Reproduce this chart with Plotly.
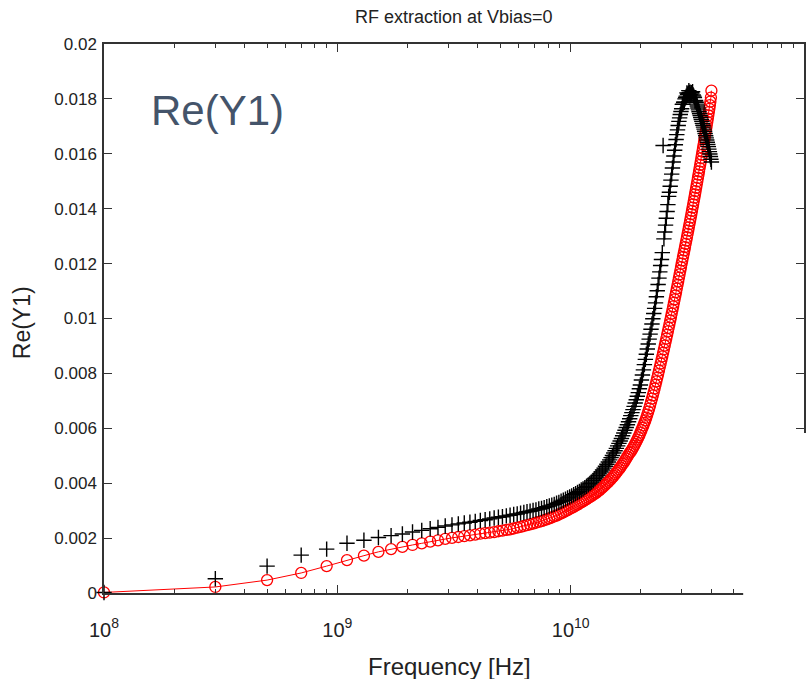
import plotly.graph_objects as go

# Frequency sweep (GHz)
freq_ghz = [
    0.1, 0.3, 0.5, 0.7, 0.9, 1.1, 1.3, 1.5, 1.7, 1.9,
    2.1, 2.3, 2.5, 2.7, 2.9, 3.1, 3.3, 3.5, 3.7, 3.9,
    4.1, 4.3, 4.5, 4.7, 4.9, 5.1, 5.3, 5.5, 5.7, 5.9,
    6.1, 6.3, 6.5, 6.7, 6.9, 7.1, 7.3, 7.5, 7.7, 7.9,
    8.1, 8.3, 8.5, 8.7, 8.9, 9.1, 9.3, 9.5, 9.7, 9.9,
    10.1, 10.3, 10.5, 10.7, 10.9, 11.1, 11.3, 11.5, 11.7, 11.9,
    12.1, 12.3, 12.5, 12.7, 12.9, 13.1, 13.3, 13.5, 13.7, 13.9,
    14.1, 14.3, 14.5, 14.7, 14.9, 15.1, 15.3, 15.5, 15.7, 15.9,
    16.1, 16.3, 16.5, 16.7, 16.9, 17.1, 17.3, 17.5, 17.7, 17.9,
    18.1, 18.3, 18.5, 18.7, 18.9, 19.1, 19.3, 19.5, 19.7, 19.9,
    20.1, 20.3, 20.5, 20.7, 20.9, 21.1, 21.3, 21.5, 21.7, 21.9,
    22.1, 22.3, 22.5, 22.7, 22.9, 23.1, 23.3, 23.5, 23.7, 23.9,
    24.1, 24.3, 24.5, 24.7, 24.9, 25.1, 25.3, 25.5, 25.7, 25.9,
    26.1, 26.3, 26.5, 26.7, 26.9, 27.1, 27.3, 27.5, 27.7, 27.9,
    28.1, 28.3, 28.5, 28.7, 28.9, 29.1, 29.3, 29.5, 29.7, 29.9,
    30.1, 30.3, 30.5, 30.7, 30.9, 31.1, 31.3, 31.5, 31.7, 31.9,
    32.1, 32.3, 32.5, 32.7, 32.9, 33.1, 33.3, 33.5, 33.7, 33.9,
    34.1, 34.3, 34.5, 34.7, 34.9, 35.1, 35.3, 35.5, 35.7, 35.9,
    36.1, 36.3, 36.5, 36.7, 36.9, 37.1, 37.3, 37.5, 37.7, 37.9,
    38.1, 38.3, 38.5, 38.7, 38.9, 39.1, 39.3, 39.5, 39.7, 39.9,
    40.1,
]

# Re(Y1), model (red circles with line)
re_y1_model = [
    0.00002, 0.00022, 0.00047, 0.00073, 0.00098, 0.00120, 0.00136, 0.00150, 0.00160, 0.00168,
    0.00175, 0.00181, 0.00187, 0.00192, 0.00197, 0.00201, 0.00204, 0.00207, 0.00210, 0.00213,
    0.00216, 0.00218, 0.00220, 0.00222, 0.00225, 0.00227, 0.00230, 0.00232, 0.00235, 0.00238,
    0.00241, 0.00244, 0.00247, 0.00250, 0.00253, 0.00256, 0.00259, 0.00262, 0.00265, 0.00268,
    0.00272, 0.00275, 0.00279, 0.00282, 0.00286, 0.00290, 0.00294, 0.00298, 0.00302, 0.00306,
    0.00310, 0.00314, 0.00318, 0.00322, 0.00326, 0.00330, 0.00334, 0.00338, 0.00342, 0.00346,
    0.00350, 0.00354, 0.00358, 0.00362, 0.00366, 0.00371, 0.00375, 0.00380, 0.00385, 0.00390,
    0.00395, 0.00400, 0.00405, 0.00410, 0.00416, 0.00421, 0.00427, 0.00433, 0.00439, 0.00445,
    0.00451, 0.00457, 0.00463, 0.00470, 0.00476, 0.00483, 0.00490, 0.00497, 0.00504, 0.00511,
    0.00515, 0.00522, 0.00529, 0.00536, 0.00543, 0.00551, 0.00559, 0.00567, 0.00575, 0.00584,
    0.00593, 0.00602, 0.00611, 0.00620, 0.00629, 0.00639, 0.00650, 0.00661, 0.00672, 0.00684,
    0.00696, 0.00708, 0.00720, 0.00732, 0.00745, 0.00758, 0.00771, 0.00784, 0.00797, 0.00810,
    0.00823, 0.00836, 0.00849, 0.00862, 0.00875, 0.00888, 0.00901, 0.00914, 0.00927, 0.00940,
    0.00953, 0.00966, 0.00979, 0.00992, 0.01005, 0.01018, 0.01031, 0.01044, 0.01057, 0.01070,
    0.01083, 0.01096, 0.01109, 0.01122, 0.01135, 0.01148, 0.01161, 0.01174, 0.01187, 0.01200,
    0.01212, 0.01224, 0.01236, 0.01248, 0.01260, 0.01272, 0.01284, 0.01296, 0.01308, 0.01320,
    0.01332, 0.01344, 0.01356, 0.01368, 0.01380, 0.01392, 0.01404, 0.01416, 0.01428, 0.01440,
    0.01452, 0.01464, 0.01476, 0.01488, 0.01500, 0.01512, 0.01524, 0.01536, 0.01548, 0.01560,
    0.01572, 0.01584, 0.01596, 0.01608, 0.01620, 0.01632, 0.01644, 0.01656, 0.01668, 0.01680,
    0.01692, 0.01704, 0.01716, 0.01728, 0.01740, 0.01752, 0.01764, 0.01777, 0.01790, 0.01805,
    0.01830,
]

# Re(Y1), measured (black plus markers)
re_y1_meas = [
    0.00002, 0.00052, 0.00098, 0.00138, 0.00160, 0.00181, 0.00192, 0.00202, 0.00209, 0.00215,
    0.00222, 0.00228, 0.00234, 0.00239, 0.00244, 0.00248, 0.00252, 0.00255, 0.00258, 0.00261,
    0.00264, 0.00267, 0.00270, 0.00273, 0.00276, 0.00278, 0.00281, 0.00283, 0.00286, 0.00288,
    0.00291, 0.00293, 0.00296, 0.00298, 0.00301, 0.00303, 0.00306, 0.00308, 0.00311, 0.00314,
    0.00317, 0.00320, 0.00323, 0.00327, 0.00330, 0.00334, 0.00338, 0.00342, 0.00346, 0.00350,
    0.00354, 0.00358, 0.00362, 0.00366, 0.00370, 0.00375, 0.00379, 0.00384, 0.00389, 0.00394,
    0.00399, 0.00404, 0.00410, 0.00416, 0.00422, 0.00428, 0.00434, 0.00441, 0.00448, 0.00455,
    0.00462, 0.00469, 0.00477, 0.00485, 0.00493, 0.00501, 0.00510, 0.00518, 0.00527, 0.00536,
    0.00545, 0.00554, 0.00563, 0.00573, 0.00583, 0.00593, 0.00603, 0.00613, 0.00624, 0.00635,
    0.00646, 0.00657, 0.00668, 0.00680, 0.00692, 0.00704, 0.00717, 0.00730, 0.00744, 0.00758,
    0.00776, 0.00794, 0.00813, 0.00832, 0.00851, 0.00870, 0.00889, 0.00907, 0.00925, 0.00943,
    0.00961, 0.00980, 0.00999, 0.01018, 0.01037, 0.01057, 0.01079, 0.01101, 0.01124, 0.01147,
    0.01170, 0.01193, 0.01215, 0.01240, 0.01630, 0.01290, 0.01315, 0.01340, 0.01365, 0.01390,
    0.01415, 0.01445, 0.01460, 0.01482, 0.01504, 0.01526, 0.01548, 0.01570, 0.01592, 0.01613,
    0.01633, 0.01652, 0.01670, 0.01687, 0.01703, 0.01718, 0.01731, 0.01743, 0.01754, 0.01764,
    0.01780, 0.01781, 0.01788, 0.01788, 0.01800, 0.01805, 0.01810, 0.01822, 0.01817, 0.01820,
    0.01830, 0.01823, 0.01824, 0.01815, 0.01823, 0.01821, 0.01826, 0.01814, 0.01810, 0.01805,
    0.01792, 0.01794, 0.01788, 0.01781, 0.01774, 0.01767, 0.01760, 0.01753, 0.01746, 0.01739,
    0.01732, 0.01725, 0.01718, 0.01711, 0.01704, 0.01697, 0.01690, 0.01682, 0.01674, 0.01666,
    0.01658, 0.01650, 0.01642, 0.01634, 0.01626, 0.01617, 0.01608, 0.01599, 0.01590, 0.01580,
    0.01570,
]

x_tick_vals = [1e8, 1e9, 1e10]
x_tick_text = ["10<sup>8</sup>", "10<sup>9</sup>", "10<sup>10</sup>"]
x_minor_vals = [m * d for d in (1e8, 1e9, 1e10) for m in range(2, 10)]
y_tick_vals = [0, 0.002, 0.004, 0.006, 0.008, 0.01, 0.012, 0.014, 0.016, 0.018, 0.02]
y_tick_text = ["0", "0.002", "0.004", "0.006", "0.008", "0.01", "0.012",
               "0.014", "0.016", "0.018", "0.02"]

title_text = "RF extraction at Vbias=0"
x_label = "Frequency [Hz]"
y_label = "Re(Y1)"
panel_label = "Re(Y1)"

freq_hz = [f * 1e9 for f in freq_ghz]

FONT = "Liberation Sans, Arial, Helvetica, sans-serif"
AX = "#333333"

fig = go.Figure()
fig.add_trace(go.Scatter(
    x=freq_hz, y=re_y1_model, mode="lines+markers",
    line=dict(color="#ff0000", width=1),
    marker=dict(symbol="circle-open", size=11, color="#ff0000",
                line=dict(width=1.3, color="#ff0000")),
    showlegend=False, cliponaxis=False,
))
fig.add_trace(go.Scatter(
    x=freq_hz, y=re_y1_meas, mode="markers",
    marker=dict(symbol="cross-thin-open", size=11, color="#000000",
                line=dict(width=1.4, color="#000000")),
    showlegend=False, cliponaxis=False,
))

fig.update_layout(
    width=807, height=679,
    margin=dict(l=104, r=1, t=44, b=86),
    paper_bgcolor="white", plot_bgcolor="white",
    font=dict(family=FONT, size=18, color="#222222"),
    xaxis=dict(
        type="log", range=[8, 11],
        tickvals=x_tick_vals, ticktext=x_tick_text,
        ticks="inside", ticklen=8, tickwidth=1.3, tickcolor=AX,
        minor=dict(tickmode="array", tickvals=x_minor_vals, ticks="inside",
                   ticklen=4, tickwidth=1.3, tickcolor=AX, showgrid=False),
        showline=True, linecolor=AX, linewidth=1.5, mirror="allticks",
        showgrid=False, zeroline=False,
        ticklabelstandoff=18,
        tickfont=dict(family=FONT, size=20, color="#222222"),
    ),
    yaxis=dict(
        range=[0, 0.02],
        tickvals=y_tick_vals, ticktext=y_tick_text,
        ticks="inside", ticklen=8, tickwidth=1.3, tickcolor=AX,
        showline=True, linecolor=AX, linewidth=1.5, mirror="ticks",
        showgrid=False, zeroline=False,
        ticklabelstandoff=2,
        tickfont=dict(family=FONT, size=17, color="#222222"),
    ),
    annotations=[
        dict(text=title_text, xref="paper", yref="paper", x=0.5, y=(593 - 17) / 549,
             xanchor="center", yanchor="middle", showarrow=False,
             font=dict(family=FONT, size=18, color="#222222")),
        dict(text=x_label, xref="paper", yref="paper", x=(450 - 104) / 702, y=(593 - 666) / 549,
             xanchor="center", yanchor="middle", showarrow=False,
             font=dict(family=FONT, size=24, color="#222222")),
        dict(text=y_label, xref="paper", yref="paper", x=(22 - 104) / 702, y=(593 - 323) / 549,
             xanchor="center", yanchor="middle", showarrow=False, textangle=-90,
             font=dict(family=FONT, size=23, color="#222222")),
        dict(text=panel_label, xref="paper", yref="paper", x=(218 - 104) / 702, y=(593 - 110) / 549,
             xanchor="center", yanchor="middle", showarrow=False,
             font=dict(family=FONT, size=42, color="#44546a")),
    ],
    shapes=[
        dict(type="rect", xref="paper", yref="paper", layer="above",
             x0=(745 - 104) / 702, x1=1.05, y0=-0.3, y1=(593 - 433) / 549,
             fillcolor="white", line=dict(width=0)),
    ],
)

fig.write_html("out.html")
